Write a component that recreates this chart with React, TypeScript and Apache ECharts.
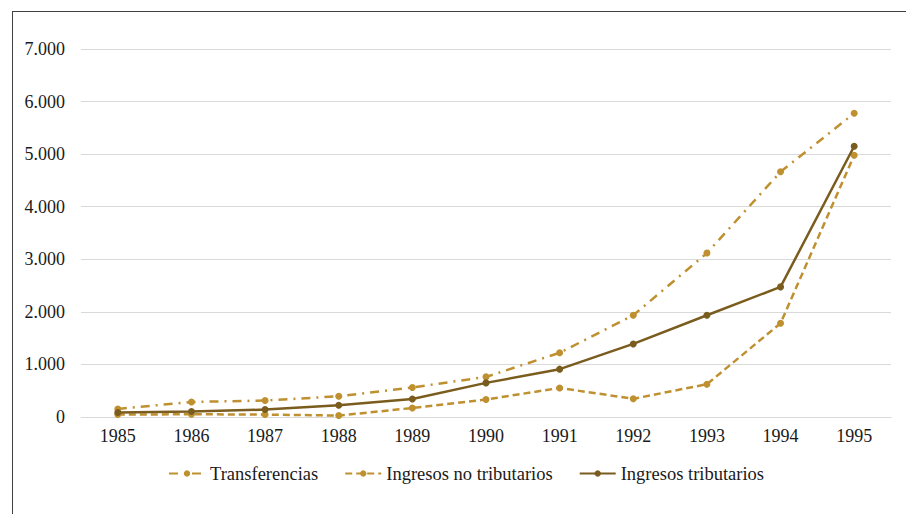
import React, { useEffect, useRef } from "react";
import * as echarts from "echarts";

const years = ["1985", "1986", "1987", "1988", "1989", "1990", "1991", "1992", "1993", "1994", "1995"];
const transferencias = [153, 286, 313, 395, 561, 763, 1221, 1935, 3118, 4664, 5777];
const noTributarios = [46, 52, 46, 27, 172, 332, 553, 346, 624, 1782, 4978];
const tributarios = [84, 103, 141, 223, 344, 649, 910, 1390, 1935, 2475, 5150];

const GOLD = "#BF9030";
const BROWN = "#7A5C1E";
const FONT = "Liberation Serif";

const fmt = (v: number) => String(v).replace(/\B(?=(\d{3})+(?!\d))/g, ".");

export default function App() {
  const ref = useRef<HTMLDivElement>(null);

  useEffect(() => {
    if (!ref.current) return;
    const chart = echarts.init(ref.current, undefined, { renderer: "svg" });
    chart.setOption({
      animation: false,
      grid: { left: 81, right: 15, top: 49, bottom: 97 },
      legend: {
        top: 459,
        left: 163,
        itemGap: 26,
        itemWidth: 36,
        itemHeight: 8,
        textStyle: { fontFamily: FONT, fontSize: 18.5, color: "#1a1a1a" },
        data: ["Transferencias", "Ingresos no tributarios", "Ingresos tributarios"],
      },
      xAxis: {
        type: "category",
        data: years,
        boundaryGap: true,
        axisLine: { lineStyle: { color: "#d9d9d9", width: 1 } },
        axisTick: { show: false },
        axisLabel: { fontFamily: FONT, fontSize: 18, color: "#1a1a1a", margin: 10 },
      },
      yAxis: {
        type: "value",
        min: 0,
        max: 7000,
        interval: 1000,
        axisLine: { show: false },
        axisTick: { show: false },
        splitLine: { lineStyle: { color: "#d9d9d9", width: 1 } },
        axisLabel: { fontFamily: FONT, fontSize: 18, color: "#1a1a1a", margin: 16, formatter: fmt },
      },
      series: [
        {
          name: "Transferencias",
          type: "line",
          data: transferencias,
          symbol: "circle",
          symbolSize: 7,
          itemStyle: { color: GOLD },
          lineStyle: { color: GOLD, width: 2.5, type: [9, 6, 2, 6] },
          z: 2,
        },
        {
          name: "Ingresos no tributarios",
          type: "line",
          data: noTributarios,
          symbol: "circle",
          symbolSize: 7,
          itemStyle: { color: GOLD },
          lineStyle: { color: GOLD, width: 2.5, type: [7, 4] },
          z: 3,
        },
        {
          name: "Ingresos tributarios",
          type: "line",
          data: tributarios,
          symbol: "circle",
          symbolSize: 7,
          itemStyle: { color: BROWN },
          lineStyle: { color: BROWN, width: 2.5 },
          z: 4,
        },
      ],
    });
    return () => chart.dispose();
  }, []);

  return (
    <div style={{ position: "fixed", left: 0, top: 0, width: 906, height: 514, overflow: "hidden", background: "#fff" }}>
      <div
        style={{
          position: "absolute",
          left: 12,
          top: 11,
          width: 1000,
          height: 1000,
          borderTop: "1px solid #404040",
          borderLeft: "1px solid #404040",
        }}
      />
      <div ref={ref} style={{ position: "absolute", left: 0, top: 0, width: 906, height: 514 }} />
    </div>
  );
}
